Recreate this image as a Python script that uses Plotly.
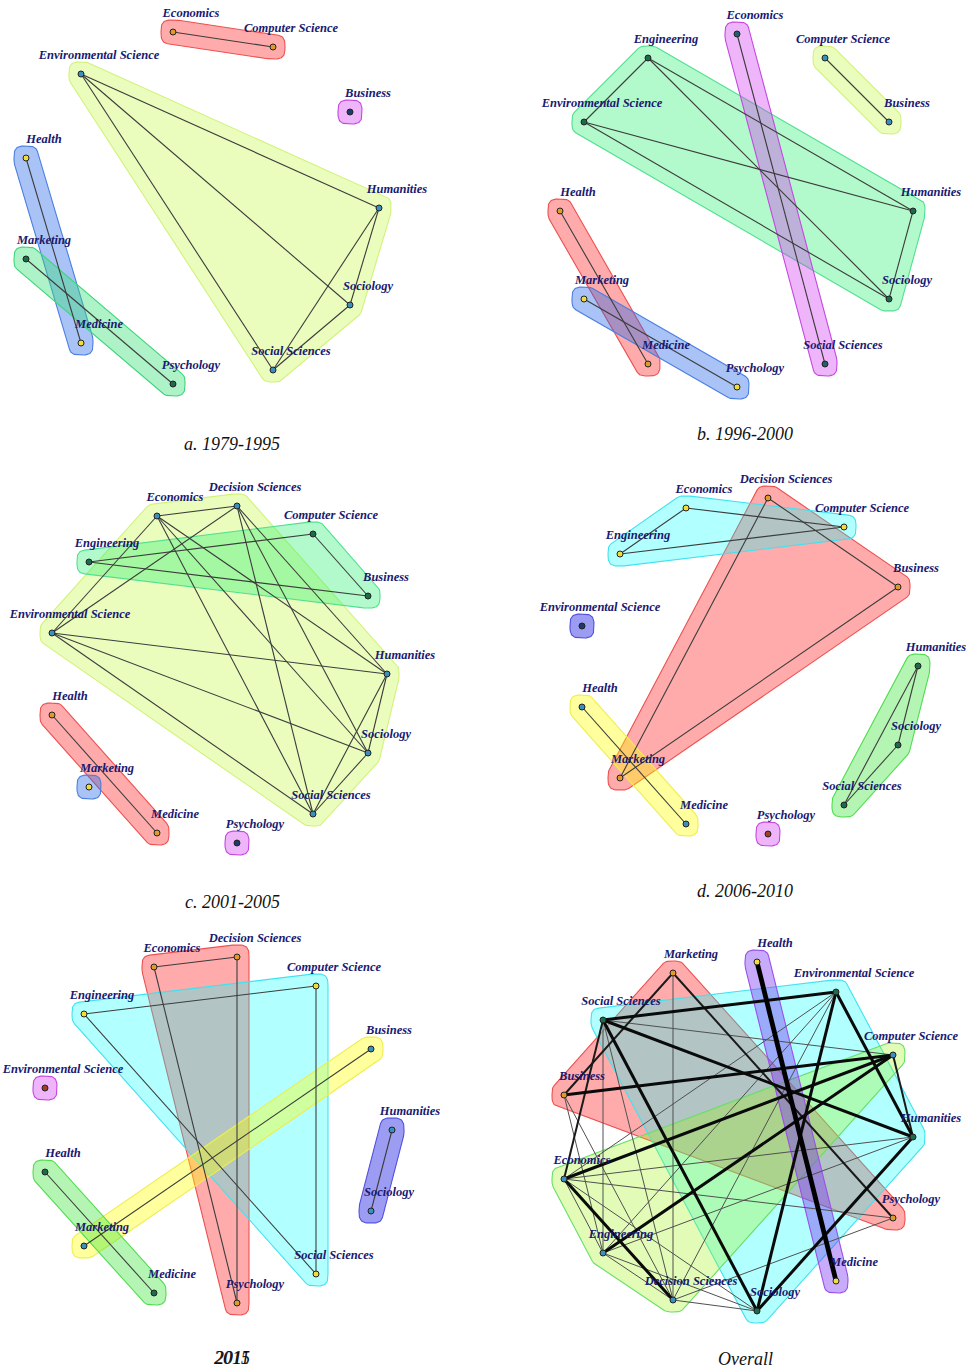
import numpy as np
import plotly.graph_objects as go

# ======================= DATA =======================
# Panel a. 1979-1995
A_NAMES = ["Economics", "Computer Science", "Environmental Science", "Business", "Health",
           "Humanities", "Marketing", "Sociology", "Medicine", "Social Sciences", "Psychology"]
A_X = [173, 273, 81, 350, 26, 379, 26, 350, 81, 273, 173]
A_Y = [32, 47, 74, 112, 158, 208, 259, 305, 343, 370, 384]
A_EDGES = [("Economics", "Computer Science"), ("Environmental Science", "Humanities"),
           ("Environmental Science", "Sociology"), ("Environmental Science", "Social Sciences"),
           ("Humanities", "Sociology"), ("Humanities", "Social Sciences"),
           ("Sociology", "Social Sciences"), ("Health", "Medicine"), ("Marketing", "Psychology")]
A_GROUPS = [["Economics", "Computer Science"],
            ["Environmental Science", "Humanities", "Sociology", "Social Sciences"],
            ["Business"], ["Health", "Medicine"], ["Marketing", "Psychology"]]
A_CAPTION = "a. 1979-1995"

# Panel b. 1996-2000
B_NAMES = ["Economics", "Engineering", "Computer Science", "Environmental Science", "Business",
           "Health", "Humanities", "Marketing", "Sociology", "Medicine", "Social Sciences", "Psychology"]
B_X = [737, 648, 825, 584, 889, 560, 913, 584, 889, 648, 825, 737]
B_Y = [34, 58, 58, 122, 122, 211, 211, 299, 299, 364, 364, 387]
B_EDGES = [("Engineering", "Environmental Science"), ("Engineering", "Humanities"),
           ("Engineering", "Sociology"), ("Environmental Science", "Humanities"),
           ("Environmental Science", "Sociology"), ("Humanities", "Sociology"),
           ("Economics", "Social Sciences"), ("Computer Science", "Business"),
           ("Health", "Medicine"), ("Marketing", "Psychology")]
B_GROUPS = [["Engineering", "Environmental Science", "Humanities", "Sociology"],
            ["Economics", "Social Sciences"], ["Computer Science", "Business"],
            ["Health", "Medicine"], ["Marketing", "Psychology"]]
B_CAPTION = "b. 1996-2000"

# Panel c. 2001-2005
C_NAMES = ["Economics", "Decision Sciences", "Computer Science", "Engineering", "Business",
           "Environmental Science", "Humanities", "Health", "Sociology", "Marketing",
           "Social Sciences", "Medicine", "Psychology"]
C_X = [157, 237, 313, 89, 368, 52, 387, 52, 368, 89, 313, 157, 237]
C_Y = [516, 506, 534, 562, 596, 633, 674, 715, 753, 787, 814, 833, 843]
C_CLIQUE = ["Economics", "Decision Sciences", "Environmental Science", "Humanities",
            "Sociology", "Social Sciences"]
C_EDGES = [(C_CLIQUE[i], C_CLIQUE[j]) for i in range(6) for j in range(i + 1, 6)] + [
    ("Engineering", "Computer Science"), ("Engineering", "Business"),
    ("Computer Science", "Business"), ("Health", "Medicine")]
C_GROUPS = [C_CLIQUE, ["Engineering", "Computer Science", "Business"],
            ["Health", "Medicine"], ["Marketing"], ["Psychology"]]
C_CAPTION = "c. 2001-2005"

# Panel d. 2006-2010
D_NAMES = ["Decision Sciences", "Economics", "Computer Science", "Engineering", "Business",
           "Environmental Science", "Humanities", "Health", "Sociology", "Marketing",
           "Social Sciences", "Medicine", "Psychology"]
D_X = [768, 686, 844, 620, 898, 582, 918, 582, 898, 620, 844, 686, 768]
D_Y = [498, 508, 527, 554, 587, 626, 666, 707, 745, 778, 805, 824, 834]
D_EDGES = [("Economics", "Engineering"), ("Economics", "Computer Science"),
           ("Engineering", "Computer Science"), ("Decision Sciences", "Business"),
           ("Decision Sciences", "Marketing"), ("Business", "Marketing"),
           ("Humanities", "Sociology"), ("Humanities", "Social Sciences"),
           ("Sociology", "Social Sciences"), ("Health", "Medicine")]
D_GROUPS = [["Decision Sciences", "Business", "Marketing"],
            ["Economics", "Engineering", "Computer Science"],
            ["Humanities", "Sociology", "Social Sciences"], ["Health", "Medicine"],
            ["Environmental Science"], ["Psychology"]]
D_CAPTION = "d. 2006-2010"

# Panel e. 2011-2015
E_NAMES = ["Decision Sciences", "Economics", "Computer Science", "Engineering", "Business",
           "Environmental Science", "Humanities", "Health", "Sociology", "Marketing",
           "Social Sciences", "Medicine", "Psychology"]
E_X = [237, 154, 316, 84, 371, 45, 392, 45, 371, 84, 316, 154, 237]
E_Y = [957, 967, 986, 1014, 1049, 1088, 1130, 1172, 1211, 1246, 1274, 1293, 1303]
E_EDGES = [("Economics", "Decision Sciences"), ("Economics", "Psychology"),
           ("Decision Sciences", "Psychology"), ("Engineering", "Computer Science"),
           ("Engineering", "Social Sciences"), ("Computer Science", "Social Sciences"),
           ("Business", "Marketing"), ("Health", "Medicine"), ("Humanities", "Sociology")]
E_GROUPS = [["Economics", "Decision Sciences", "Psychology"],
            ["Engineering", "Computer Science", "Social Sciences"],
            ["Business", "Marketing"], ["Health", "Medicine"],
            ["Humanities", "Sociology"], ["Environmental Science"]]
E_CAPTIONS = ["2011", "2015"]

# Panel f. Overall (edge weight 1 = thin ... 4 = very thick)
F_NAMES = ["Health", "Marketing", "Environmental Science", "Social Sciences", "Computer Science",
           "Business", "Humanities", "Economics", "Psychology", "Engineering", "Medicine",
           "Decision Sciences", "Sociology"]
F_X = [757, 673, 836, 603, 893, 564, 913, 564, 893, 603, 836, 673, 757]
F_Y = [962, 973, 992, 1020, 1055, 1095, 1137, 1179, 1218, 1253, 1281, 1300, 1311]
F_EDGES = [
    ("Health", "Medicine", 4), ("Marketing", "Decision Sciences", 1),
    ("Marketing", "Business", 2), ("Marketing", "Psychology", 2),
    ("Social Sciences", "Environmental Science", 3), ("Social Sciences", "Computer Science", 1),
    ("Social Sciences", "Humanities", 3), ("Social Sciences", "Sociology", 3),
    ("Social Sciences", "Engineering", 1), ("Social Sciences", "Decision Sciences", 1),
    ("Social Sciences", "Economics", 2), ("Business", "Computer Science", 3),
    ("Business", "Engineering", 1), ("Business", "Decision Sciences", 1),
    ("Environmental Science", "Humanities", 3), ("Environmental Science", "Sociology", 3),
    ("Environmental Science", "Economics", 1), ("Environmental Science", "Engineering", 1),
    ("Environmental Science", "Decision Sciences", 1), ("Engineering", "Computer Science", 3),
    ("Economics", "Computer Science", 3), ("Economics", "Humanities", 1),
    ("Economics", "Psychology", 1), ("Economics", "Engineering", 1),
    ("Economics", "Decision Sciences", 3), ("Economics", "Sociology", 1),
    ("Engineering", "Humanities", 1), ("Engineering", "Decision Sciences", 1),
    ("Engineering", "Sociology", 1),
    ("Decision Sciences", "Sociology", 1), ("Decision Sciences", "Psychology", 1),
    ("Humanities", "Sociology", 3), ("Computer Science", "Humanities", 2),
]
F_GROUPS = [["Marketing", "Business", "Psychology"],
            ["Social Sciences", "Environmental Science", "Humanities", "Sociology"],
            ["Economics", "Engineering", "Decision Sciences", "Computer Science"],
            ["Health", "Medicine"]]
F_CAPTION = "Overall"

# ======================= STYLE =======================
# translucent fills (alpha-blended like the original renderer)
HULL = {
    "red": ("rgba(255,0,0,0.33)", "#ee5050"),
    "ygreen": ("rgba(185,248,38,0.30)", "#d2f27a"),
    "ygreen2": ("rgba(158,245,18,0.30)", "#66e066"),
    "blue": ("rgba(40,105,233,0.40)", "#4a7fe2"),
    "green": ("rgba(53,222,117,0.40)", "#3ed67a"),
    "mint": ("rgba(35,238,109,0.35)", "#50e090"),
    "lgreen": ("rgba(41,226,41,0.35)", "#50dd50"),
    "magenta": ("rgba(209,44,241,0.35)", "#c448e0"),
    "cyan": ("rgba(0,255,255,0.30)", "#40e2f0"),
    "yellow": ("rgba(255,255,0,0.38)", "#eeee50"),
    "violet": ("rgba(57,57,229,0.50)", "#5050e0"),
    "purple": ("rgba(117,45,242,0.40)", "#9a50e8"),
}
NODE = {"orange": "#e09a2a", "yellow": "#f0dc3a", "teal": "#3a8fbf", "dgreen": "#1c6b4a",
        "navy": "#1e3a6a", "brown": "#a03c2a", "dteal": "#1f5f70"}

PANELS = [
    dict(names=A_NAMES, x=A_X, y=A_Y, edges=A_EDGES, groups=A_GROUPS,
         hull=["red", "ygreen", "magenta", "blue", "green"],
         node=["orange", "teal", "navy", "yellow", "dgreen"], captions=[A_CAPTION], cap=(232, 444)),
    dict(names=B_NAMES, x=B_X, y=B_Y, edges=B_EDGES, groups=B_GROUPS,
         hull=["mint", "magenta", "ygreen", "red", "blue"],
         node=["dgreen", "dteal", "teal", "orange", "yellow"], captions=[B_CAPTION], cap=(745, 434)),
    dict(names=C_NAMES, x=C_X, y=C_Y, edges=C_EDGES, groups=C_GROUPS,
         hull=["ygreen", "mint", "red", "blue", "magenta"],
         node=["teal", "dgreen", "orange", "yellow", "navy"], captions=[C_CAPTION], cap=(232, 902)),
    dict(names=D_NAMES, x=D_X, y=D_Y, edges=D_EDGES, groups=D_GROUPS,
         hull=["red", "cyan", "lgreen", "yellow", "violet", "magenta"],
         node=["orange", "yellow", "dgreen", "teal", "navy", "brown"], captions=[D_CAPTION], cap=(745, 891)),
    dict(names=E_NAMES, x=E_X, y=E_Y, edges=E_EDGES, groups=E_GROUPS,
         hull=["red", "cyan", "yellow", "lgreen", "violet", "magenta"],
         node=["orange", "yellow", "teal", "dgreen", "teal", "brown"], captions=E_CAPTIONS, cap=(232, 1358)),
    dict(names=F_NAMES, x=F_X, y=F_Y, edges=F_EDGES, groups=F_GROUPS,
         hull=["red", "cyan", "ygreen2", "purple"],
         node=["orange", "dgreen", "teal", "yellow"], captions=[F_CAPTION], cap=(745, 1359)),
]

PAD = 12          # hull padding (px)
LABEL_DX, LABEL_DY = 18, -18
LABEL_FONT = dict(family="Liberation Serif, Times New Roman, serif", size=12.5,
                  color="#191970", weight="bold", style="italic")
W = {1: 1.0, 2: 2.0, 3: 3.0, 4: 4.8}
WCOL = {1: "#505050", 2: "#1a1a1a", 3: "#0a0a0a", 4: "#000000"}


def convex_hull(pts):
    pts = sorted(set(map(tuple, np.round(pts, 3))))
    if len(pts) <= 2:
        return pts

    def cross(o, a, b):
        return (a[0] - o[0]) * (b[1] - o[1]) - (a[1] - o[1]) * (b[0] - o[0])
    lower, upper = [], []
    for p in pts:
        while len(lower) >= 2 and cross(lower[-2], lower[-1], p) <= 0:
            lower.pop()
        lower.append(p)
    for p in reversed(pts):
        while len(upper) >= 2 and cross(upper[-2], upper[-1], p) <= 0:
            upper.pop()
        upper.append(p)
    return lower[:-1] + upper[:-1]


def rounded_hull(px, py, r=PAD, n=3.2, k=64):
    t = np.linspace(0, 2 * np.pi, k, endpoint=False)
    c, s = np.cos(t), np.sin(t)
    ux = np.sign(c) * np.abs(c) ** (2 / n)
    uy = np.sign(s) * np.abs(s) ** (2 / n)
    pts = np.concatenate([np.column_stack([x + r * ux, y + r * uy]) for x, y in zip(px, py)])
    h = convex_hull(pts)
    hx = [p[0] for p in h] + [h[0][0]]
    hy = [p[1] for p in h] + [h[0][1]]
    return hx, hy


fig = go.Figure()

# hulls
for P in PANELS:
    pos = {n: (x, y) for n, x, y in zip(P["names"], P["x"], P["y"])}
    for g, hk in zip(P["groups"], P["hull"]):
        fill, border = HULL[hk]
        hx, hy = rounded_hull([pos[n][0] for n in g], [pos[n][1] for n in g])
        fig.add_trace(go.Scatter(x=hx, y=hy, mode="lines", fill="toself", fillcolor=fill,
                                 line=dict(color=border, width=1.1), hoverinfo="skip",
                                 showlegend=False))

# edges
for P in PANELS:
    pos = {n: (x, y) for n, x, y in zip(P["names"], P["x"], P["y"])}
    byw = {}
    for e in P["edges"]:
        w = e[2] if len(e) > 2 else 1
        byw.setdefault(w, []).append(e)
    for w, es in sorted(byw.items()):
        ex, ey = [], []
        for e in es:
            ex += [pos[e[0]][0], pos[e[1]][0], None]
            ey += [pos[e[0]][1], pos[e[1]][1], None]
        is_f = P is PANELS[-1]
        fig.add_trace(go.Scatter(x=ex, y=ey, mode="lines",
                                 line=dict(color=WCOL[w] if is_f else "#3c3c3c",
                                           width=W[w] if is_f else 1.1),
                                 hoverinfo="skip", showlegend=False))

# nodes + labels
for P in PANELS:
    ncol = {}
    for g, nk in zip(P["groups"], P["node"]):
        for n in g:
            ncol[n] = NODE[nk]
    fig.add_trace(go.Scatter(x=P["x"], y=P["y"], mode="markers",
                             marker=dict(size=6, color=[ncol[n] for n in P["names"]],
                                         line=dict(color="#222222", width=1)),
                             hoverinfo="skip", showlegend=False))
    fig.add_trace(go.Scatter(x=[x + LABEL_DX for x in P["x"]], y=[y + LABEL_DY for y in P["y"]],
                             mode="text", text=P["names"], textfont=LABEL_FONT,
                             textposition="middle center", hoverinfo="skip", showlegend=False))
    for cap in P["captions"]:
        fig.add_annotation(x=P["cap"][0], y=P["cap"][1], text=cap, showarrow=False,
                           font=dict(family="Liberation Serif, Times New Roman, serif", size=18,
                                     color="#111111", style="italic"),
                           xanchor="center", yanchor="middle")

fig.update_layout(width=973, height=1368, margin=dict(l=0, r=0, t=0, b=0),
                  paper_bgcolor="white", plot_bgcolor="white",
                  xaxis=dict(range=[0, 973], visible=False, fixedrange=True),
                  yaxis=dict(range=[1368, 0], visible=False, fixedrange=True))

POST = """
document.body.style.margin = '0';
document.body.style.padding = '0';
document.body.style.overflow = 'hidden';
"""
fig.write_html("out.html", post_script=POST, config={"displayModeBar": False})
